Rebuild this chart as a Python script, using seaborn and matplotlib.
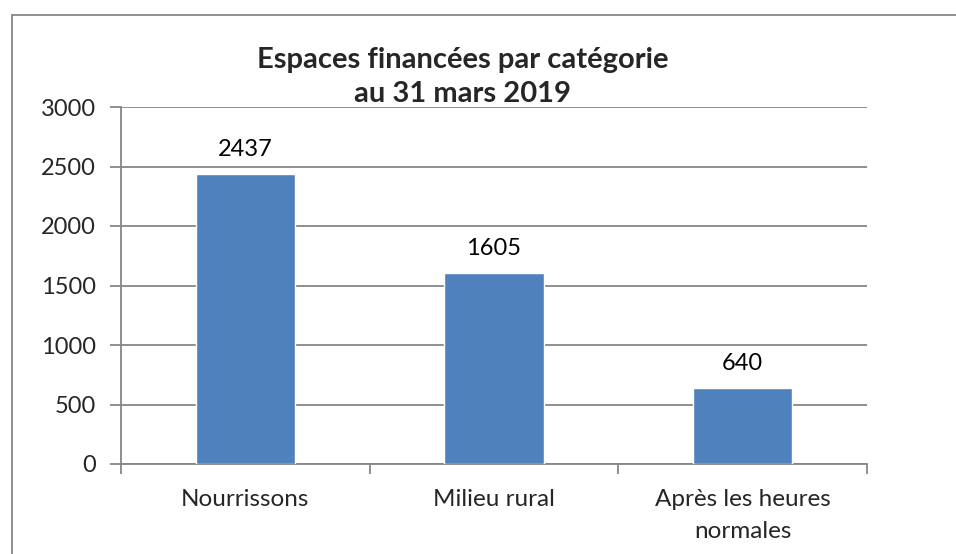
import matplotlib
matplotlib.use("Agg")
import matplotlib.pyplot as plt
from matplotlib.lines import Line2D
import seaborn as sns
import pandas as pd

# données
categories = ["Nourrissons", "Milieu rural", "Après les heures\nnormales"]
espaces = [2437, 1605, 640]
titre = "Espaces financées par catégorie\nau 31 mars 2019"

df = pd.DataFrame({"cat": categories, "val": espaces})

sns.set_style("white")
plt.rcParams["font.family"] = ["Lato", "DejaVu Sans"]

W, H = 956, 554
fig = plt.figure(figsize=(W / 100, H / 100), dpi=100)
ax = fig.add_axes([121 / W, 1 - 464 / H, (867 - 121) / W, (464 - 107) / H])

sns.barplot(data=df, x="cat", y="val", color="#4F81BD", saturation=1,
            width=0.4, ax=ax, zorder=3)

# étiquettes de valeur
for c in ax.containers:
    ax.bar_label(c, padding=10, fontsize=17, color="black")

ax.set_ylim(0, 3000)
ax.set_xlim(-0.5, 2.5)
ax.set_yticks(range(0, 3001, 500))
ax.yaxis.grid(True, color="#868686", linewidth=1.3, zorder=0)
ax.set_axisbelow(True)
ax.set_xlabel("")
ax.set_ylabel("")

for s in ["top", "right"]:
    ax.spines[s].set_visible(False)
for s in ["left", "bottom"]:
    ax.spines[s].set_color("#868686")
    ax.spines[s].set_linewidth(1.3)

# ticks style Excel : x aux limites de catégorie
ax.set_xticks([-0.5, 0.5, 1.5, 2.5])
ax.set_xticklabels([])
ax.set_xticks([0, 1, 2], minor=True)
ax.set_xticklabels(categories, minor=True, fontsize=17.5, linespacing=1.65)
ax.tick_params(axis="x", which="major", length=7, width=1.3, color="#868686", direction="out", bottom=True)
ax.tick_params(axis="x", which="minor", length=0, pad=18)
ax.tick_params(axis="y", length=8, width=1.3, color="#868686", direction="out", left=True,
               labelsize=17, pad=10)

fig.text(463 / W, 1 - 77 / H, titre, ha="center", va="center", fontsize=21,
         fontweight="bold", linespacing=1.4)

# cadre du graphique
fig.add_artist(Line2D([12 / W, 12 / W], [0, 1 - 15 / H], color="#868686", linewidth=1.3))
fig.add_artist(Line2D([12 / W, 1], [1 - 15 / H, 1 - 15 / H], color="#868686", linewidth=1.3))

fig.savefig("out.png", dpi=100, facecolor="white")
